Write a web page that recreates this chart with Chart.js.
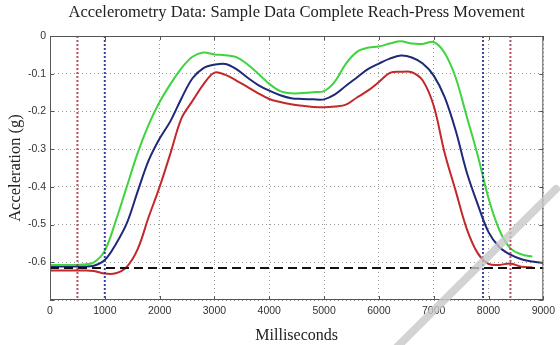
<!DOCTYPE html>
<html>
<head>
<meta charset="utf-8">
<script src="https://cdn.jsdelivr.net/npm/chart.js@4/dist/chart.umd.min.js"></script>
<style>
  html, body { margin: 0; padding: 0; background: #fff; }
  #wrap { width: 560px; height: 345px; }
</style>
</head>
<body>
<div id="wrap"><canvas id="accelCanvas" width="560" height="345"></canvas></div>
<script>
const timeMs = [
  0, 200, 400, 600, 800, 1000, 1200, 1400, 1600, 1800,
  2000, 2200, 2400, 2600, 2800, 3000, 3200, 3400, 3600, 3800,
  4000, 4200, 4400, 4600, 4800, 5000, 5200, 5400, 5600, 5800,
  6000, 6200, 6400, 6600, 6800, 7000, 7200, 7400, 7600, 7800,
  8000, 8200, 8400, 8600, 8800, 9000,
];

const greenSeries = [
  -0.607, -0.607, -0.607, -0.606, -0.600, -0.569, -0.490, -0.400, -0.310, -0.235,
  -0.175, -0.127, -0.085, -0.055, -0.044, -0.049, -0.051, -0.056, -0.075, -0.100,
  -0.127, -0.146, -0.152, -0.151, -0.149, -0.146, -0.120, -0.073, -0.042, -0.031,
  -0.028, -0.020, -0.014, -0.020, -0.021, -0.016, -0.045, -0.110, -0.212, -0.315,
  -0.430, -0.515, -0.563, -0.579, -0.585,
];

const blueSeries = [
  -0.611, -0.611, -0.611, -0.611, -0.609, -0.594, -0.552, -0.497, -0.412, -0.330,
  -0.272, -0.225, -0.165, -0.112, -0.085, -0.076, -0.074, -0.088, -0.110, -0.130,
  -0.145, -0.157, -0.165, -0.167, -0.168, -0.168, -0.155, -0.132, -0.110, -0.088,
  -0.073, -0.060, -0.052, -0.057, -0.073, -0.105, -0.162, -0.250, -0.360, -0.445,
  -0.520, -0.560, -0.580, -0.592, -0.598, -0.602,
];

const redSeries = [
  -0.622, -0.622, -0.622, -0.622, -0.623, -0.630, -0.629, -0.612, -0.565, -0.480,
  -0.400, -0.310, -0.218, -0.172, -0.128, -0.097, -0.103, -0.118, -0.135, -0.152,
  -0.167, -0.175, -0.181, -0.185, -0.188, -0.189, -0.187, -0.182, -0.163, -0.145,
  -0.122, -0.098, -0.095, -0.096, -0.118, -0.185, -0.310, -0.410, -0.510, -0.575,
  -0.604, -0.607, -0.603, -0.612, -0.613,
];

const baselineG = -0.615;
const redMarkersMs = [500, 8400];
const blueMarkersMs = [1000, 7900];

const xTicks = [0, 1000, 2000, 3000, 4000, 5000, 6000, 7000, 8000, 9000];
const yTicks = [0, -0.1, -0.2, -0.3, -0.4, -0.5, -0.6, -0.7];

const serif = '"Liberation Serif", "Times New Roman", serif';
const sans = '"Liberation Sans", Arial, sans-serif';

const toPoints = (values) =>
  values.map((y, i) => ({ x: timeMs[i], y }));

const markerSet = (xVal, color) => ({
  data: [{ x: xVal, y: 0 }, { x: xVal, y: -0.7 }],
  borderColor: color,
  borderWidth: 2,
  borderDash: [2, 2],
  pointRadius: 0,
  tension: 0,
});

/**
 * Axes box, inward tick marks and the light watermark stroke
 */
const boxPlugin = {
  id: 'matlabBox',
  afterDatasetsDraw(chart) {
    const { ctx, chartArea: a, scales } = chart;
    ctx.save();
    ctx.strokeStyle = '#555';
    ctx.lineWidth = 1;
    ctx.strokeRect(a.left + 0.5, a.top + 0.5, a.width - 1, a.height - 1);
    ctx.beginPath();
    xTicks.forEach(v => {
      const px = Math.round(scales.x.getPixelForValue(v)) + 0.5;
      ctx.moveTo(px, a.bottom); ctx.lineTo(px, a.bottom - 4);
      ctx.moveTo(px, a.top); ctx.lineTo(px, a.top + 4);
    });
    yTicks.forEach(v => {
      const py = Math.round(scales.y.getPixelForValue(v)) + 0.5;
      ctx.moveTo(a.left, py); ctx.lineTo(a.left + 4, py);
      ctx.moveTo(a.right, py); ctx.lineTo(a.right - 4, py);
    });
    ctx.stroke();
    ctx.restore();
  },
  afterDraw(chart) {
    const { ctx, width, height } = chart;
    ctx.save();
    ctx.strokeStyle = 'rgba(200,200,200,0.8)';
    ctx.lineWidth = 8;
    ctx.lineCap = 'round';
    ctx.beginPath();
    ctx.moveTo(width - 4, height - 156);
    ctx.lineTo(width - 163, height + 2);
    ctx.stroke();
    ctx.restore();
  },
};

const ctx = document.getElementById('accelCanvas').getContext('2d');

new Chart(ctx, {
  type: 'line',
  data: {
    datasets: [
      markerSet(redMarkersMs[0], 'rgba(170,50,70,0.85)'),
      markerSet(redMarkersMs[1], 'rgba(170,50,70,0.85)'),
      markerSet(blueMarkersMs[0], 'rgba(40,50,150,0.9)'),
      markerSet(blueMarkersMs[1], 'rgba(40,50,150,0.9)'),
      {
        data: [{ x: 0, y: baselineG }, { x: 9000, y: baselineG }],
        borderColor: '#111',
        borderWidth: 2,
        borderDash: [9, 5],
        pointRadius: 0,
      },
      {
        data: toPoints(greenSeries),
        borderColor: '#3ed43e',
        borderWidth: 2,
        pointRadius: 0,
        tension: 0.35,
      },
      {
        data: toPoints(blueSeries),
        borderColor: '#1e2a78',
        borderWidth: 2,
        pointRadius: 0,
        tension: 0.35,
      },
      {
        data: toPoints(redSeries),
        borderColor: '#c4282a',
        borderWidth: 2,
        pointRadius: 0,
        tension: 0.35,
      },
    ],
  },
  options: {
    responsive: false,
    animation: false,
    layout: { padding: { top: 0, right: 12, bottom: 0, left: 0 } },
    plugins: {
      legend: { display: false },
      tooltip: { enabled: false },
      title: {
        display: true,
        fullSize: false,
        text: 'Accelerometry Data: Sample Data Complete Reach-Press Movement',
        color: '#222',
        font: { family: serif, size: 16.5, weight: 'normal' },
        padding: { top: 3, bottom: 13.2 },
        align: 'center',
      },
    },
    scales: {
      x: {
        type: 'linear',
        min: 0,
        max: 9000,
        afterBuildTicks: (scale) => { scale.ticks = xTicks.map(value => ({ value })); },
        afterFit: (scale) => { scale.height = 45; },
        ticks: {
          color: '#333',
          padding: 5,
          maxRotation: 0,
          font: { family: sans, size: 10.5 },
          callback: (v) => String(v),
        },
        grid: { color: '#9a9a9a', drawTicks: false, lineWidth: 1 },
        border: { display: false, dash: [1, 3] },
        title: {
          display: true,
          text: 'Milliseconds',
          color: '#222',
          font: { family: serif, size: 16 },
          padding: { top: 0, bottom: 0 },
        },
      },
      y: {
        min: -0.7,
        max: 0,
        afterBuildTicks: (scale) => { scale.ticks = yTicks.map(value => ({ value })); },
        afterFit: (scale) => { scale.width = 50; },
        ticks: {
          color: '#333',
          padding: 4,
          font: { family: sans, size: 10.5 },
          callback: (v) => (v <= -0.65 ? '' : (v === 0 ? '0' : Number(v).toFixed(1))),
        },
        grid: { color: '#9a9a9a', drawTicks: false, lineWidth: 1 },
        border: { display: false, dash: [1, 3] },
        title: {
          display: true,
          text: 'Acceleration (g)',
          color: '#222',
          font: { family: serif, size: 16.5 },
          padding: { top: 6, bottom: 0 },
        },
      },
    },
  },
  plugins: [boxPlugin],
});
</script>
</body>
</html>
